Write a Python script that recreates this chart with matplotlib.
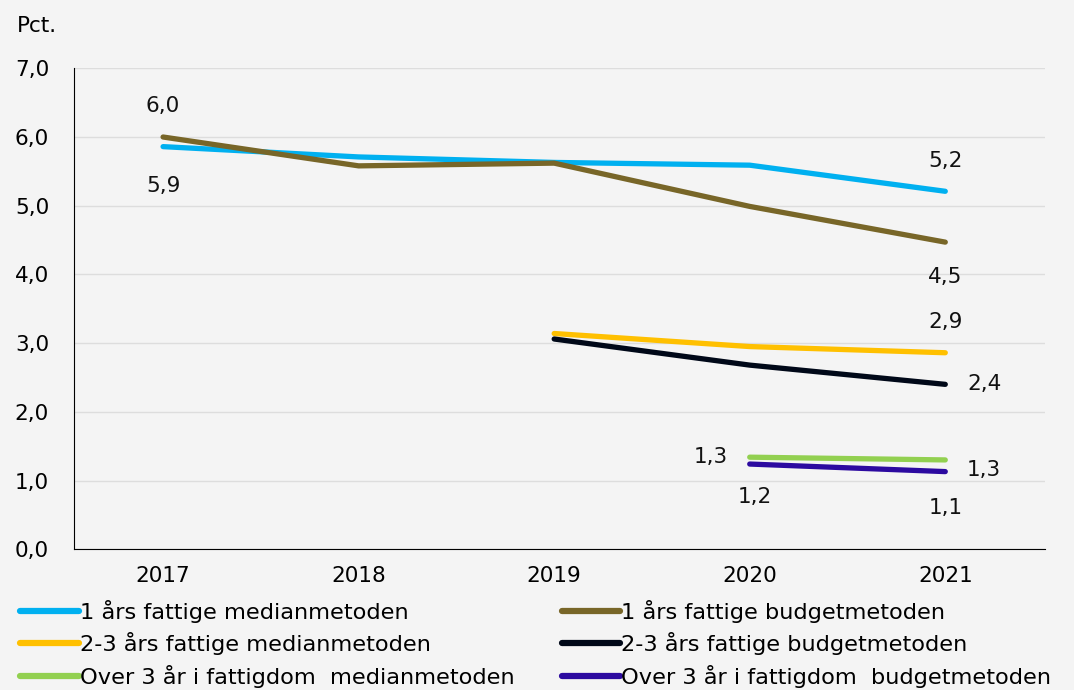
import matplotlib.pyplot as plt
import numpy as np

plt.rcParams['font.family'] = ['DejaVu Sans']

years = ['2017', '2018', '2019', '2020', '2021']

median_1 = [5.86, 5.71, 5.63, 5.59, 5.21]
budget_1 = [6.0, 5.58, 5.62, 4.99, 4.47]
median_23 = [np.nan, np.nan, 3.14, 2.95, 2.86]
budget_23 = [np.nan, np.nan, 3.06, 2.68, 2.40]
median_3 = [np.nan, np.nan, np.nan, 1.34, 1.30]
budget_3 = [np.nan, np.nan, np.nan, 1.24, 1.13]

series_names = ['1 års fattige medianmetoden', '1 års fattige budgetmetoden',
                '2-3 års fattige medianmetoden', '2-3 års fattige budgetmetoden',
                'Over 3 år i fattigdom  medianmetoden', 'Over 3 år i fattigdom  budgetmetoden']
series_colors = ['#00B0F0', '#786628', '#FFC000', '#000818', '#92D050', '#2C0AA0']

# labels shown on the chart: (series index, year index, text, offset in points)
labels = [
    (1, 0, '6,0', (0, 22)),
    (0, 0, '5,9', (0, -28)),
    (0, 4, '5,2', (0, 22)),
    (1, 4, '4,5', (0, -25)),
    (2, 4, '2,9', (0, 22)),
    (3, 4, '2,4', (28, 0)),
    (4, 3, '1,3', (-28, 0)),
    (5, 3, '1,2', (4, -24)),
    (4, 4, '1,3', (28, -7)),
    (5, 4, '1,1', (0, -26)),
]

bg = '#F4F4F4'
fig = plt.figure(figsize=(10.74, 6.9), dpi=100, facecolor=bg)
ax = fig.add_axes([0.069, 0.204, 0.904, 0.697], facecolor=bg)

x = np.arange(len(years))
data = [median_1, budget_1, median_23, budget_23, median_3, budget_3]
lines = []
for vals, name, col in zip(data, series_names, series_colors):
    ln, = ax.plot(x, vals, color=col, lw=3.8, solid_capstyle='round', label=name, zorder=3)
    lines.append(ln)

for si, yi, txt, off in labels:
    ax.annotate(txt, (x[yi], data[si][yi]), xytext=off, textcoords='offset points',
                ha='center', va='center', fontsize=15.5, color='#111111')

ax.set_ylim(0, 7)
ax.set_xlim(-0.455, 4.51)
ax.set_yticks(np.arange(0, 8, 1))
ax.set_yticklabels([f'{v:.1f}'.replace('.', ',') for v in range(8)], fontsize=15.5)
ax.set_xticks(x)
ax.set_xticklabels(years, fontsize=15.5)
ax.tick_params(length=0, pad=12)
ax.tick_params(axis='y', pad=18)
ax.grid(axis='y', color='#DDDDDD', lw=1)
ax.set_axisbelow(True)
for s in ['top', 'right']:
    ax.spines[s].set_visible(False)
ax.spines['left'].set_color('black')
ax.spines['bottom'].set_color('black')

fig.text(0.016, 0.962, 'Pct.', fontsize=15.5, va='center')

# legend filled row by row, two columns
order = [0, 2, 4, 1, 3, 5]
leg = fig.legend(handles=[lines[i] for i in order], loc='lower left',
                 bbox_to_anchor=(0.0, -0.026), ncol=2,
                 frameon=False, fontsize=16.2, handlelength=2.6, handletextpad=0.05,
                 columnspacing=2.1, labelspacing=0.42)
for h in leg.get_lines():
    h.set_linewidth(4.5)

fig.savefig('out.png', dpi=100, facecolor=bg)
